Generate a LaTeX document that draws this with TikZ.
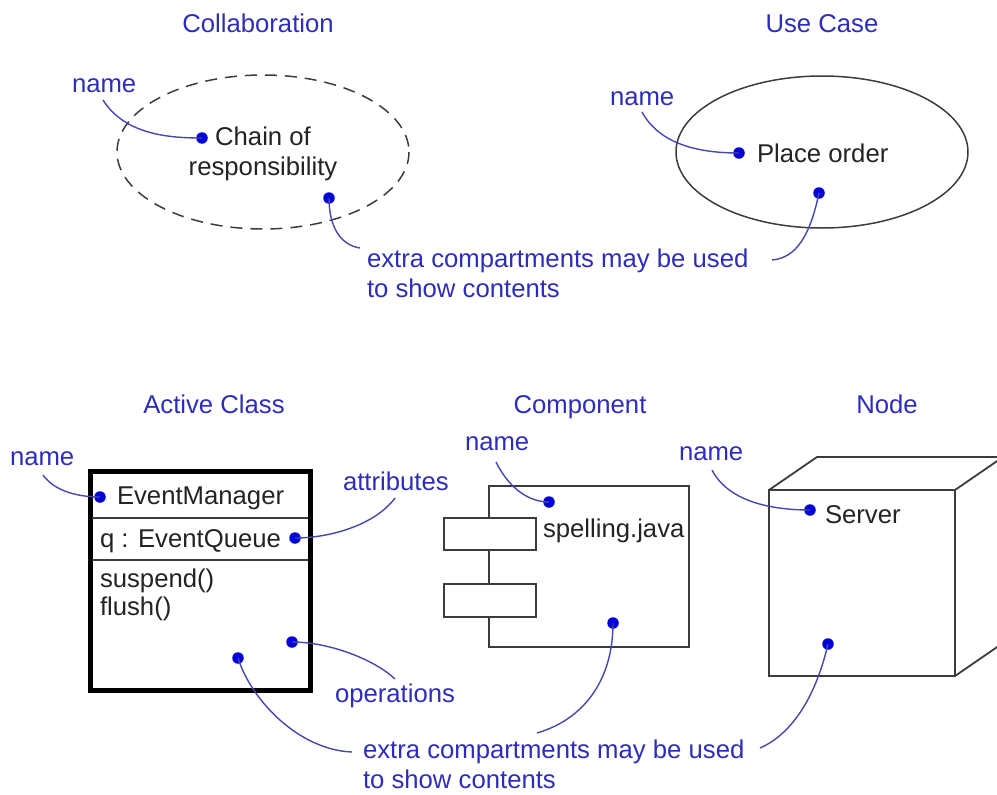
\documentclass[tikz,border=0pt]{standalone}
\usepackage{fontspec}
\setmainfont{Liberation Sans}
\definecolor{labelblue}{RGB}{45,45,185}
\definecolor{dotblue}{RGB}{0,0,215}
\definecolor{curveblue}{RGB}{70,70,175}
\definecolor{inktext}{RGB}{35,35,35}
\definecolor{boxline}{RGB}{60,60,60}
\begin{document}
\begin{tikzpicture}[x=1pt,y=-1pt,
  every node/.style={inner sep=0pt, outer sep=0pt, font=\fontsize{25.7}{30}\selectfont},
  lbl/.style={text=labelblue, anchor=base west, align=left},
  ttl/.style={text=labelblue, anchor=base},
  txt/.style={text=inktext, anchor=base west},
  pin/.style={circle, fill=dotblue, minimum size=11.5pt},
  lead/.style={draw=curveblue, line width=1.4pt},
  shp/.style={draw=boxline, line width=1.8pt}]
\useasboundingbox (0,0) rectangle (997,795);
\begin{scope}
\clip (0,0) rectangle (997,795);

% ---------- Collaboration ----------
\node[ttl] (tcollab) at (258,32) {Collaboration};
\draw[shp, line width=1.5pt, dash pattern=on 12pt off 8pt] (263,152) ellipse [x radius=146, y radius=77];
\node[text=inktext, align=center, anchor=base] (chain) at (263,175) {Chain of\\responsibility};
\node[lbl] (cname) at (72,92) {name};
\node[pin] (cdot1) at (202,138) {};
\node[pin] (cdot2) at (329,198) {};
\coordinate (cnameend) at (103,100);
\draw[lead] (cnameend) .. controls (125,135) and (170,138) .. (cdot1.center);
\node[lbl] (extraTop) at (367,297) {extra compartments may be used\\to show contents};
\coordinate (cextraend) at (360,248);
\draw[lead] (cdot2.center) .. controls (329,226) and (340,245) .. (cextraend);

% ---------- Use Case ----------
\node[ttl] (tuse) at (822,32) {Use Case};
\draw[shp, line width=1.5pt] (822,152) ellipse [x radius=146, y radius=76];
\node[txt] (place) at (757,162) {Place order};
\node[lbl] (uname) at (610,105) {name};
\node[pin] (udot1) at (739,153) {};
\node[pin] (udot2) at (819,193) {};
\coordinate (unameend) at (642,112);
\draw[lead] (unameend) .. controls (660,145) and (700,153) .. (udot1.center);
\coordinate (uextraend) at (772,260);
\draw[lead] (udot2.center) .. controls (810,236) and (796,258) .. (uextraend);

% ---------- Active Class ----------
\node[ttl] (tactive) at (214,413) {Active Class};
\draw[black, line width=5pt] (90,471) rectangle (310,690);
\draw[boxline, line width=1.5pt] (92,518) -- (308,518);
\draw[boxline, line width=1.5pt] (92,560) -- (308,560);
\node[txt] (evm) at (117,504) {EventManager};
\node[txt] (evq) at (100,547) {q : EventQueue};
\node[txt, align=left] (ops) at (100,615) {suspend()\\[-2pt]flush()};
\node[lbl] (aname) at (10,465) {name};
\node[lbl] (attr) at (343,490) {attributes};
\node[lbl] (oper) at (335,702) {operations};
\node[pin] (adot1) at (100,497) {};
\node[pin] (adot2) at (295,538) {};
\node[pin] (adot3) at (292,642) {};
\node[pin] (adot4) at (238,658) {};
\coordinate (anameend) at (43,475);
\draw[lead] (anameend) .. controls (55,492) and (80,497) .. (adot1.center);
\coordinate (attrend) at (395,498);
\draw[lead] (attrend) .. controls (375,525) and (330,538) .. (adot2.center);
\coordinate (operend) at (395,679);
\draw[lead] (adot3.center) .. controls (330,642) and (375,660) .. (operend);
\coordinate (aextraend) at (352,752);
\draw[lead] (adot4.center) .. controls (252,702) and (300,750) .. (aextraend);

% ---------- Component ----------
\node[ttl] (tcomp) at (580,413) {Component};
\draw[shp] (489,486) rectangle (689,647);
\draw[shp, fill=white] (444,518) rectangle (536,550);
\draw[shp, fill=white] (444,584) rectangle (536,617);
\node[txt] (spell) at (543,537) {spelling.java};
\node[lbl] (kname) at (465,450) {name};
\node[pin] (kdot1) at (549,502) {};
\node[pin] (kdot2) at (613,623) {};
\coordinate (knameend) at (496,462);
\draw[lead] (knameend) .. controls (510,490) and (530,502) .. (kdot1.center);
\coordinate (kextraend) at (537,733);
\draw[lead] (kdot2.center) .. controls (613,682) and (582,720) .. (kextraend);

% ---------- Node ----------
\node[ttl] (tnode) at (887,413) {Node};
\draw[shp] (769,490) rectangle (955,676);
\draw[shp, line join=round] (769,490) -- (817,457) -- (1003,457) -- (955,490);
\draw[shp] (955,676) -- (1003,643) -- (1003,457);
\node[txt] (server) at (825,523) {Server};
\node[lbl] (nname) at (679,460) {name};
\node[pin] (ndot1) at (810,510) {};
\node[pin] (ndot2) at (828,644) {};
\coordinate (nnameend) at (712,470);
\draw[lead] (nnameend) .. controls (730,505) and (780,510) .. (ndot1.center);
\coordinate (nextraend) at (760,748);
\draw[lead] (ndot2.center) .. controls (815,700) and (790,735) .. (nextraend);

\node[lbl] (extraBot) at (363,788) {extra compartments may be used\\to show contents};
\end{scope}
\end{tikzpicture}
\end{document}
